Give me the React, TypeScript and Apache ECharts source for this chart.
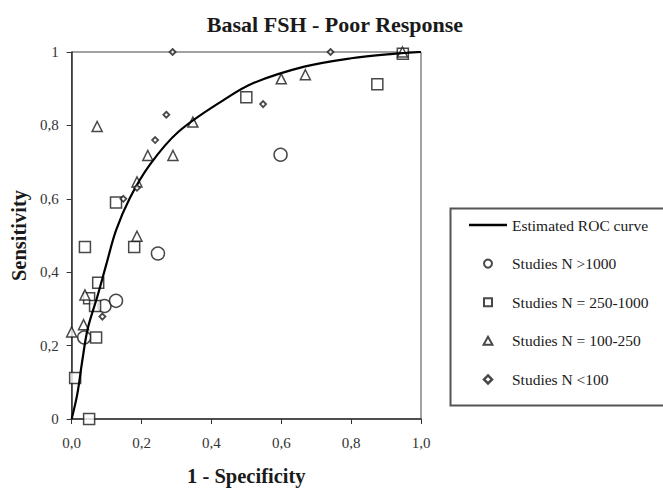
import React, { useEffect, useRef } from "react";
import * as echarts from "echarts";

const titleText = "Basal FSH - Poor Response";
const xAxisName = "1 - Specificity";
const yAxisName = "Sensitivity";

const rocName = "Estimated ROC curve";
const rocX = [0, 0.016, 0.03, 0.046, 0.074, 0.1, 0.127, 0.167, 0.223, 0.305, 0.438, 0.522, 0.666, 0.8, 0.92, 1.0];
const rocY = [0, 0.067, 0.156, 0.246, 0.335, 0.424, 0.514, 0.603, 0.692, 0.782, 0.871, 0.916, 0.96, 0.983, 0.995, 1.0];

const circleName = "Studies N >1000";
const circleX = [0.036, 0.094, 0.127, 0.247, 0.598];
const circleY = [0.222, 0.308, 0.322, 0.451, 0.72];

const squareName = "Studies N = 250-1000";
const squareX = [0.05, 0.01, 0.038, 0.179, 0.076, 0.05, 0.067, 0.07, 0.127, 0.5, 0.875, 0.948];
const squareY = [0.0, 0.112, 0.469, 0.469, 0.371, 0.329, 0.308, 0.222, 0.59, 0.877, 0.912, 0.995];

const triangleName = "Studies N = 100-250";
const triangleX = [0.0, 0.034, 0.038, 0.187, 0.073, 0.218, 0.29, 0.187, 0.347, 0.6, 0.669, 0.947];
const triangleY = [0.237, 0.257, 0.338, 0.498, 0.797, 0.718, 0.718, 0.646, 0.809, 0.927, 0.938, 1.0];

const diamondName = "Studies N <100";
const diamondX = [0.289, 0.741, 0.271, 0.239, 0.187, 0.148, 0.088, 0.548];
const diamondY = [1.0, 1.0, 0.829, 0.76, 0.63, 0.6, 0.279, 0.858];

const FONT = "'Liberation Serif', 'DejaVu Serif', serif";
const INK = "#1a1a1a";

const zip = (xs: number[], ys: number[]) => xs.map((x, i) => [x, ys[i]]);

const linePath = "path://M0,0L38,0L38,2.4L0,2.4Z";
const squarePath = "path://M0,0L10,0L10,10L0,10Z";
const trianglePath = "path://M5,0L10,9L0,9Z";
const diamondPath = "path://M5,0L10,5L5,10L0,5Z";

export default function App() {
  const ref = useRef<HTMLDivElement>(null);
  useEffect(() => {
    if (!ref.current) return;
    const chart = echarts.init(ref.current, undefined, { renderer: "svg" });
    const markerStyle = { color: "#ffffff", borderColor: INK, borderWidth: 1.5 };
    const legendStyle = { color: "#ffffff", borderColor: INK, borderWidth: 2 };
    chart.setOption({
      animation: false,
      backgroundColor: "#ffffff",
      textStyle: { fontFamily: FONT },
      title: {
        text: titleText,
        left: 330,
        textAlign: "center",
        top: 8,
        textStyle: { fontFamily: FONT, fontSize: 22, fontWeight: "bold", color: INK },
      },
      grid: {
        left: 70,
        right: 242,
        top: 52,
        bottom: 66,
        show: true,
        borderColor: "#444",
        borderWidth: 1,
        backgroundColor: "transparent",
      },
      xAxis: {
        type: "value",
        min: 0,
        max: 1,
        interval: 0.2,
        name: xAxisName,
        nameLocation: "middle",
        nameGap: 46,
        nameTextStyle: { fontFamily: FONT, fontSize: 20.5, fontWeight: "bold", color: INK },
        axisLine: { show: true, lineStyle: { color: "#333", width: 1.5 } },
        axisTick: { show: true, inside: false, length: 5, lineStyle: { color: "#333" } },
        axisLabel: {
          margin: 16,
          fontFamily: FONT,
          fontSize: 15,
          color: "#333",
          formatter: (v: number) => v.toFixed(1).replace(".", ","),
        },
        splitLine: { show: false },
      },
      yAxis: {
        type: "value",
        min: 0,
        max: 1,
        interval: 0.2,
        name: yAxisName,
        nameLocation: "middle",
        nameGap: 41,
        nameTextStyle: { fontFamily: FONT, fontSize: 20.5, fontWeight: "bold", color: INK },
        axisLine: { show: true, lineStyle: { color: "#333", width: 1.5 } },
        axisTick: { show: true, inside: false, length: 5, lineStyle: { color: "#333" } },
        axisLabel: {
          margin: 13,
          fontFamily: FONT,
          fontSize: 15,
          color: "#333",
          formatter: (v: number) =>
            v === 0 || v === 1 ? String(v) : v.toFixed(1).replace(".", ","),
        },
        splitLine: { show: false },
      },
      legend: {
        orient: "vertical",
        left: 469,
        top: 217,
        padding: 0,
        itemWidth: 38,
        itemHeight: 8,
        itemGap: 22.6,
        symbolKeepAspect: true,
        textStyle: { fontFamily: FONT, fontSize: 15.5, color: INK },
        data: [
          { name: rocName, icon: linePath, itemStyle: { color: "#000", borderWidth: 0 } },
          { name: circleName, icon: "circle", itemStyle: legendStyle },
          { name: squareName, icon: squarePath, itemStyle: legendStyle },
          { name: triangleName, icon: trianglePath, itemStyle: legendStyle },
          { name: diamondName, icon: diamondPath, itemStyle: { color: "#ffffff", borderColor: INK, borderWidth: 2.5 } },
        ],
      },
      graphic: [
        {
          type: "rect",
          left: 448,
          top: 206,
          shape: { width: 230, height: 197 },
          style: { fill: "none", stroke: "#555", lineWidth: 2 },
          silent: true,
        },
      ],
      series: [
        {
          name: rocName,
          type: "line",
          data: zip(rocX, rocY),
          smooth: 0.35,
          symbol: "none",
          lineStyle: { color: "#000", width: 2.2 },
          itemStyle: { color: "#000" },
          z: 3,
        },
        {
          name: circleName,
          type: "scatter",
          data: zip(circleX, circleY),
          symbol: "circle",
          symbolSize: 13,
          itemStyle: markerStyle,
          z: 2,
        },
        {
          name: squareName,
          type: "scatter",
          data: zip(squareX, squareY),
          symbol: "rect",
          symbolSize: 11,
          itemStyle: markerStyle,
          z: 2,
        },
        {
          name: triangleName,
          type: "scatter",
          data: zip(triangleX, triangleY),
          symbol: "triangle",
          symbolSize: 10,
          itemStyle: markerStyle,
          z: 2,
        },
        {
          name: diamondName,
          type: "scatter",
          data: zip(diamondX, diamondY),
          symbol: "diamond",
          symbolSize: 6,
          itemStyle: { color: "#ffffff", borderColor: INK, borderWidth: 1.8 },
          z: 4,
        },
      ],
    });
    return () => chart.dispose();
  }, []);
  return (
    <div
      ref={ref}
      style={{ position: "absolute", left: 0, top: 0, width: 663, height: 491 }}
    />
  );
}
